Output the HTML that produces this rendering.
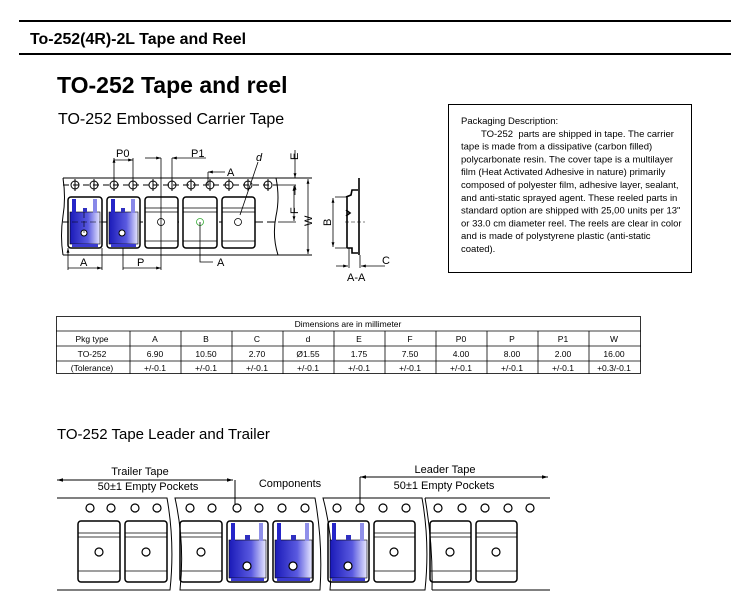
<!DOCTYPE html>
<html><head><meta charset="utf-8"><style>
html,body{margin:0;padding:0;background:#fff;width:750px;height:597px;overflow:hidden}
svg{display:block;font-family:"Liberation Sans",sans-serif}
</style></head><body>
<svg width="750" height="597" viewBox="0 0 750 597" xmlns="http://www.w3.org/2000/svg">
<defs>
<linearGradient id="bg" x1="0" x2="1" y1="0" y2="0">
<stop offset="0" stop-color="#1a1ab8"/><stop offset="0.6" stop-color="#5a5ae0"/><stop offset="1" stop-color="#e8e8ff"/>
</linearGradient>
<marker id="ar" viewBox="0 0 10 10" refX="10" refY="5" markerWidth="6" markerHeight="6" orient="auto-start-reverse"><path d="M0,2L10,5L0,8z" fill="#000"/></marker>
</defs>
<rect x="19" y="20" width="712" height="2" fill="#000"/>
<text x="30" y="44" font-size="16" font-weight="bold" textLength="216" lengthAdjust="spacingAndGlyphs">To-252(4R)-2L Tape and Reel</text>
<rect x="19" y="53" width="712" height="2" fill="#000"/>
<text x="57" y="93" font-size="23" font-weight="bold">TO-252 Tape and reel</text>
<text x="58" y="124" font-size="16">TO-252  Embossed Carrier Tape</text>

<rect x="448.5" y="104.5" width="243" height="168" fill="none" stroke="#000"/>
<g font-size="9.5">
<text x="461" y="124">Packaging Description:</text>
<text x="481" y="136.8" xml:space="preserve">TO-252  parts are shipped in tape. The carrier</text>
<text x="461" y="149.6">tape is made from a dissipative (carbon filled)</text>
<text x="461" y="162.4">polycarbonate resin. The cover tape is a multilayer</text>
<text x="461" y="175.2">film (Heat Activated Adhesive in nature) primarily</text>
<text x="461" y="188">composed of polyester film, adhesive layer, sealant,</text>
<text x="461" y="200.8">and anti-static sprayed agent. These reeled parts in</text>
<text x="461" y="213.6">standard option are shipped with 25,00 units per 13"</text>
<text x="461" y="226.4">or 33.0 cm diameter reel. The reels are clear in color</text>
<text x="461" y="239.2">and is made of polystyrene plastic (anti-static</text>
<text x="461" y="252">coated).</text>
</g>

<g stroke="#000" fill="none" stroke-width="1">
<path d="M63,178 H278 M63,255 H278"/>
<path d="M63,178 q3,20 0,38 q-3,20 0,39"/>
<path d="M276,178 q4,20 0,38 q-4,20 2,39"/>
<path d="M278,178 H312 M278,255 H312"/>
<path d="M63,185 H278" stroke-dasharray="6,4"/>
<path d="M63,222 H278" stroke-dasharray="8,4"/>
<g>
<circle cx="75" cy="185" r="4"/><circle cx="94" cy="185" r="4"/><circle cx="114" cy="185" r="4"/><circle cx="133" cy="185" r="4"/><circle cx="153" cy="185" r="4"/><circle cx="172" cy="185" r="4"/><circle cx="191" cy="185" r="4"/><circle cx="210" cy="185" r="4"/><circle cx="229" cy="185" r="4"/><circle cx="248" cy="185" r="4"/><circle cx="268" cy="185" r="4"/>
</g>
<path d="M75,179v12M94,179v12M114,179v12M133,179v12M153,179v12M172,179v12M191,179v12M210,179v12M229,179v12M248,179v12M268,179v12"/>
</g>
<g stroke="#000" stroke-width="1.5" fill="#fff">
<rect x="68" y="197" width="34" height="51" rx="3"/>
<rect x="107" y="197" width="33" height="51" rx="3"/>
<rect x="145" y="197" width="33" height="51" rx="3"/>
<rect x="183" y="197" width="34" height="51" rx="3"/>
<rect x="222" y="197" width="33" height="51" rx="3"/>
</g>
<g stroke="#000" stroke-width="0.8" fill="none">
<path d="M145,208H178M145,212H178M145,241H178M183,208H217M183,212H217M183,241H217M222,208H255M222,212H255M222,241H255"/>
<circle cx="161" cy="222" r="3.5" fill="#fff"/><circle cx="200" cy="222" r="3.5" fill="#fff" stroke="#3a3"/><circle cx="238" cy="222" r="3.5" fill="#fff"/>
</g>
<g>
<rect x="70" y="212" width="30" height="32" fill="url(#bg)" stroke="#000" stroke-width="0.6"/>
<rect x="72" y="199" width="4" height="14" fill="#2525c8"/><rect x="93" y="199" width="4" height="14" fill="#8888e8"/>
<rect x="83" y="208" width="4" height="4" fill="#3030c0"/>
<rect x="72" y="244" width="26" height="3" fill="#3a3ad0"/>
<circle cx="84" cy="233" r="3" fill="#fff" stroke="#000"/>
<rect x="109" y="212" width="29" height="32" fill="url(#bg)" stroke="#000" stroke-width="0.6"/>
<rect x="111" y="199" width="4" height="14" fill="#2525c8"/><rect x="131" y="199" width="4" height="14" fill="#8888e8"/>
<rect x="121" y="208" width="4" height="4" fill="#3030c0"/>
<rect x="111" y="244" width="25" height="3" fill="#3a3ad0"/>
<circle cx="122" cy="233" r="3" fill="#fff" stroke="#000"/>
</g>
<path d="M63,222H102M84,212V233" stroke="#000" stroke-width="0.6" stroke-dasharray="6,3" fill="none"/>
<g stroke="#000" stroke-width="0.8" fill="none">
<path d="M114,158V185M133,158V185M114,160H133" marker-start="url(#ar)" marker-end="url(#ar)"/>
<path d="M145,158H161" marker-end="url(#ar)"/><path d="M161,158V222"/>
<path d="M172,158H206" marker-start="url(#ar)"/><path d="M172,158V185"/>
<path d="M161,222V270"/>
<path d="M123,248V270M123,268H161" marker-end="url(#ar)"/>
<path d="M68,248V270M102,248V270M68,268H102" marker-start="url(#ar)" marker-end="url(#ar)"/>
<path d="M208,172H225M208,172V185" marker-start="url(#ar)"/>
<path d="M200,222V262H213"/>
<path d="M240,215L258,162"/>
<path d="M295,150V178" marker-end="url(#ar)"/><path d="M295,185V195" marker-start="url(#ar)"/>
<path d="M278,185H296M278,222H296"/>
<path d="M294,186V221" marker-start="url(#ar)" marker-end="url(#ar)"/>
<path d="M308,179V254" marker-start="url(#ar)" marker-end="url(#ar)"/>
<path d="M335,197H347M335,248H347"/>
<path d="M333,198V247" marker-start="url(#ar)" marker-end="url(#ar)"/>
<path d="M349,248V268M360,255V268M336,266H348" marker-end="url(#ar)"/>
<path d="M385,266H361" marker-end="url(#ar)"/>
</g>
<path d="M359,178V255 M346,197 L351,195 L352,190 L358,190 M347,248 L352,248 L352,253 L358,253 M346,210 l4,3 l-4,3 M347,197V248" stroke="#000" stroke-width="1.6" fill="none"/>
<path d="M345,222H365" stroke="#000" stroke-width="0.6" stroke-dasharray="4,2"/>
<g font-size="11">
<text x="116" y="157">P0</text><text x="191" y="157">P1</text>
<text x="80" y="266">A</text><text x="137" y="266">P</text>
<text x="227" y="176">A</text><text x="217" y="266">A</text>
<text x="256" y="161" font-style="italic">d</text>
<text x="347" y="281">A-A</text><text x="382" y="264">C</text>
<text transform="translate(298,160) rotate(-90)">E</text>
<text transform="translate(298,214) rotate(-90)">F</text>
<text transform="translate(312,226) rotate(-90)">W</text>
<text transform="translate(331,226) rotate(-90)">B</text>
</g>

<g stroke="#000" stroke-width="0.8" fill="none">
<rect x="56.5" y="316.5" width="584" height="57"/>
<path d="M56,331H641M56,346H641M56,361H641"/>
<path d="M130,331V374M181,331V374M232,331V374M283,331V374M334,331V374M385,331V374M436,331V374M487,331V374M538,331V374M589,331V374"/>
</g>
<g font-size="8.5" text-anchor="middle">
<text x="348" y="327">Dimensions are in millimeter</text>
<text x="92" y="342">Pkg type</text><text x="92" y="357">TO-252</text><text x="92" y="371">(Tolerance)</text>
<text x="155" y="342">A</text><text x="155" y="357">6.90</text><text x="155" y="371">+/-0.1</text>
<text x="206" y="342">B</text><text x="206" y="357">10.50</text><text x="206" y="371">+/-0.1</text>
<text x="257" y="342">C</text><text x="257" y="357">2.70</text><text x="257" y="371">+/-0.1</text>
<text x="308" y="342">d</text><text x="308" y="357">Ø1.55</text><text x="308" y="371">+/-0.1</text>
<text x="359" y="342">E</text><text x="359" y="357">1.75</text><text x="359" y="371">+/-0.1</text>
<text x="410" y="342">F</text><text x="410" y="357">7.50</text><text x="410" y="371">+/-0.1</text>
<text x="461" y="342">P0</text><text x="461" y="357">4.00</text><text x="461" y="371">+/-0.1</text>
<text x="512" y="342">P</text><text x="512" y="357">8.00</text><text x="512" y="371">+/-0.1</text>
<text x="563" y="342">P1</text><text x="563" y="357">2.00</text><text x="563" y="371">+/-0.1</text>
<text x="614" y="342">W</text><text x="614" y="357">16.00</text><text x="614" y="371">+0.3/-0.1</text>
</g>

<text x="57" y="439" font-size="15">TO-252 Tape Leader and Trailer</text>

<g stroke="#000" stroke-width="1" fill="none">
<path d="M57,498H167q8,45 3,92H57"/>
<path d="M175,498H315q8,45 5,92H180q5,-47 -5,-92z"/>
<path d="M323,498H422q8,45 3,92H330q5,-47 -7,-92z"/>
<path d="M425,498H550M432,590H550M425,498q8,45 7,92"/>
<path d="M57,480H233" marker-start="url(#ar)" marker-end="url(#ar)"/>
<path d="M235,480V504"/>
<path d="M360,477H548" marker-start="url(#ar)" marker-end="url(#ar)"/>
<path d="M360,477V504"/>
<g stroke-width="1.2">
<circle cx="90" cy="508" r="4"/><circle cx="111" cy="508" r="4"/><circle cx="135" cy="508" r="4"/><circle cx="157" cy="508" r="4"/>
<circle cx="190" cy="508" r="4"/><circle cx="212" cy="508" r="4"/><circle cx="237" cy="508" r="4"/><circle cx="259" cy="508" r="4"/><circle cx="282" cy="508" r="4"/><circle cx="305" cy="508" r="4"/>
<circle cx="337" cy="508" r="4"/><circle cx="360" cy="508" r="4"/><circle cx="383" cy="508" r="4"/><circle cx="406" cy="508" r="4"/>
<circle cx="438" cy="508" r="4"/><circle cx="462" cy="508" r="4"/><circle cx="485" cy="508" r="4"/><circle cx="508" cy="508" r="4"/><circle cx="530" cy="508" r="4"/>
</g>
<g stroke-width="1.5">
<rect x="78" y="521" width="42" height="61" rx="3"/><rect x="125" y="521" width="42" height="61" rx="3"/>
<rect x="180" y="521" width="42" height="61" rx="3"/><rect x="227" y="521" width="41" height="61" rx="3"/>
<rect x="273" y="521" width="40" height="61" rx="3"/><rect x="328" y="521" width="41" height="61" rx="3"/>
<rect x="374" y="521" width="41" height="61" rx="3"/><rect x="430" y="521" width="41" height="61" rx="3"/>
<rect x="476" y="521" width="41" height="61" rx="3"/>
</g>
<path d="M78,533H120M78,537H120M78,571H120M125,533H167M125,537H167M125,571H167M180,533H222M180,537H222M180,571H222M374,533H415M374,537H415M374,571H415M430,533H471M430,537H471M430,571H471M476,533H517M476,537H517M476,571H517" stroke-width="0.8"/>
<circle cx="99" cy="552" r="4" stroke-width="1.2"/><circle cx="146" cy="552" r="4" stroke-width="1.2"/><circle cx="201" cy="552" r="4" stroke-width="1.2"/><circle cx="394" cy="552" r="4" stroke-width="1.2"/><circle cx="450" cy="552" r="4" stroke-width="1.2"/><circle cx="496" cy="552" r="4" stroke-width="1.2"/>
</g>
<g>
<g id="c1">
<rect x="229" y="540" width="37" height="38" fill="url(#bg)" stroke="#000" stroke-width="0.6"/>
<rect x="231" y="523" width="4" height="18" fill="#2525c8"/><rect x="259" y="523" width="4" height="18" fill="#9090ea"/>
<rect x="245" y="535" width="5" height="5" fill="#3030c0"/>
<rect x="231" y="578" width="33" height="3" fill="#3a3ad0"/>
<circle cx="247" cy="566" r="4" fill="#fff" stroke="#000" stroke-width="1.2"/>
</g>
<use href="#c1" x="46"/>
<use href="#c1" x="101"/>
</g>
<g font-size="11" text-anchor="middle">
<text x="140" y="475">Trailer Tape</text>
<text x="148" y="490">50±1 Empty Pockets</text>
<text x="290" y="487">Components</text>
<text x="445" y="473">Leader Tape</text>
<text x="444" y="489">50±1 Empty Pockets</text>
</g>
</svg>
</body></html>
